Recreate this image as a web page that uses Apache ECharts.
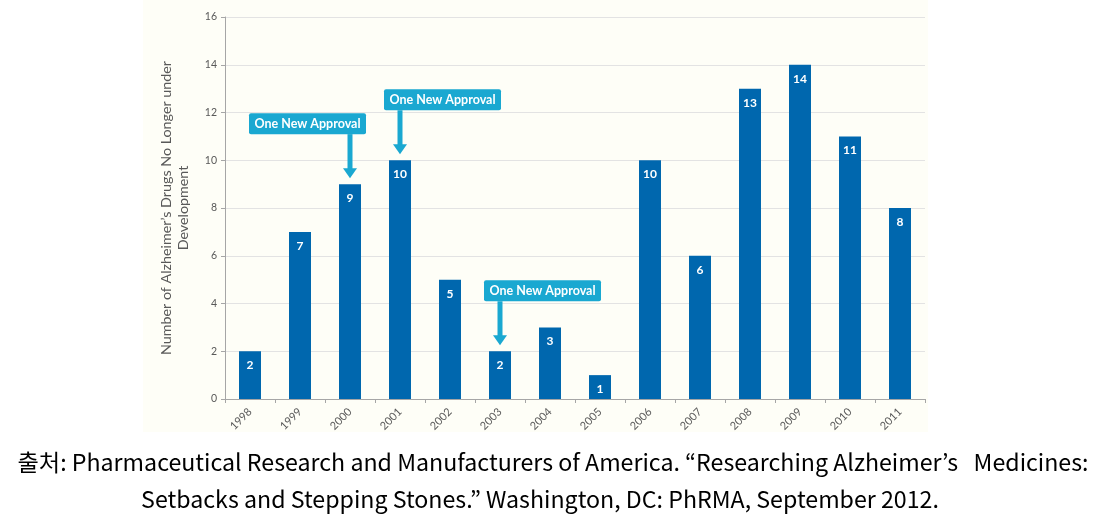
<!DOCTYPE html>
<html>
<head>
<meta charset="utf-8">
<script src="https://cdn.jsdelivr.net/npm/echarts@6/dist/echarts.min.js"></script>
<style>
html,body{margin:0;padding:0;background:#ffffff;}
#chart{width:1105px;height:525px;}
</style>
</head>
<body>
<div id="chart"></div>
<script>
var years = ['1998','1999','2000','2001','2002','2003','2004','2005','2006','2007','2008','2009','2010','2011'];
var drugsDiscontinued = [2,7,9,10,5,2,3,1,10,6,13,14,11,8];
var yTicks = {min:0, max:16, interval:2};
var approvalYears = ['2000','2001','2003'];
var approvalText = ['One New Approval','One New Approval','One New Approval'];
var yAxisTitle = 'Number of Alzheimer\u2019s Drugs No Longer under\nDevelopment';
var captionLines = ['출처: Pharmaceutical Research and Manufacturers of America. \u201cResearching Alzheimer\u2019s   Medicines:',
                    'Setbacks and Stepping Stones.\u201d Washington, DC: PhRMA, September 2012.'];

// box placement relative to arrow: 'left' means box extends to the left of arrow
var boxSide = ['left','right','right'];

var approvalData = approvalYears.map(function(y){
  return [y, drugsDiscontinued[years.indexOf(y)]];
});

var chart = echarts.init(document.getElementById('chart'));
var option = {
  animation:false,
  backgroundColor:'#ffffff',
  graphic:[
    {type:'rect', z:-10, silent:true, shape:{x:143,y:0,width:785,height:432}, style:{fill:'#fefef7'}},
    {type:'text', style:{text:captionLines[0], x:553, y:462, align:'center', verticalAlign:'middle', font:'23.2px "Noto Sans CJK KR"', fill:'#000'}},
    {type:'text', style:{text:captionLines[1], x:540, y:499, align:'center', verticalAlign:'middle', font:'23.2px "Noto Sans CJK KR"', fill:'#000'}}
  ],
  grid:{left:225, right:180, top:17, bottom:126},
  xAxis:{
    type:'category', data:years,
    axisLine:{lineStyle:{color:'#a6a6a6'}},
    axisTick:{show:true, alignWithLabel:false, length:4, lineStyle:{color:'#a6a6a6'}},
    axisLabel:{rotate:45, color:'#595959', fontSize:11, fontFamily:'Lato', margin:11}
  },
  yAxis:{
    type:'value', min:yTicks.min, max:yTicks.max, interval:yTicks.interval,
    name:yAxisTitle, nameLocation:'middle', nameGap:33, nameRotate:90,
    nameTextStyle:{color:'#595959', fontSize:14.3, fontFamily:'Lato', lineHeight:17},
    axisLine:{show:true, lineStyle:{color:'#a6a6a6'}},
    axisTick:{show:true, length:4, lineStyle:{color:'#a6a6a6'}},
    axisLabel:{color:'#595959', fontSize:10.5, fontFamily:'Lato', margin:8},
    splitLine:{lineStyle:{color:'#e3e3e3'}}
  },
  series:[
    {
      type:'bar', data:drugsDiscontinued, barWidth:22,
      itemStyle:{color:'#0067ae'},
      label:{show:true, position:'insideTop', distance:8, color:'#ffffff', fontSize:12, fontWeight:'bold', fontFamily:'Lato'}
    },
    {
      type:'custom', data:approvalData, z:5,
      renderItem:function(params, api){
        var pt = api.coord([api.value(0), api.value(1)]);
        var x = Math.round(pt[0]), top = pt[1];
        var tipY = top - 6;
        var boxBottom = top - 50;
        var boxH = 21, boxW = 117;
        var side = boxSide[params.dataIndex];
        var bx = side === 'left' ? x + 16 - boxW : x - 16;
        var headH = 10, headW = 14, shaftW = 5;
        return {
          type:'group',
          children:[
            {type:'rect', shape:{x:bx, y:boxBottom-boxH, width:boxW, height:boxH, r:2}, style:{fill:'#1aa8d1'}},
            {type:'text', style:{text:approvalText[params.dataIndex], x:bx+boxW/2, y:boxBottom-boxH/2, align:'center', verticalAlign:'middle', fill:'#ffffff', font:'bold 12.5px Lato'}},
            {type:'rect', shape:{x:x-shaftW/2, y:boxBottom, width:shaftW, height:tipY-headH-boxBottom+1}, style:{fill:'#1aa8d1'}},
            {type:'polygon', shape:{points:[[x-headW/2, tipY-headH],[x+headW/2, tipY-headH],[x, tipY]]}, style:{fill:'#1aa8d1'}}
          ]
        };
      }
    }
  ]
};
chart.setOption(option);
</script>
</body>
</html>
